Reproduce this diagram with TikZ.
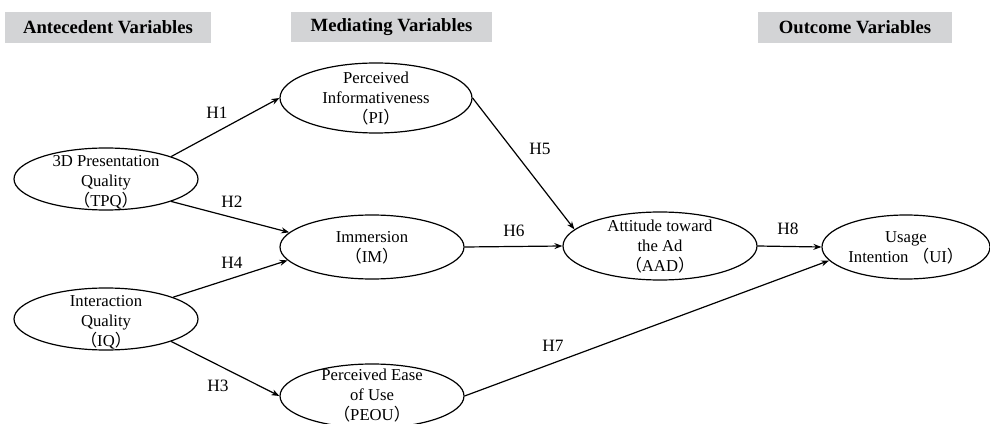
\documentclass[tikz,border=0pt]{standalone}
\usepackage{fontspec}
\setmainfont{Liberation Serif}
\newfontfamily\cjk{Noto Sans CJK SC}
\usetikzlibrary{shapes.geometric,arrows.meta}
\definecolor{headgray}{RGB}{211,212,214}
\newcommand{\fwl}{{\cjk （}}
\newcommand{\fwr}{{\cjk ）}}
\tikzset{every picture/.style={line width=0.9pt}}

\begin{document}
\begin{tikzpicture}[x=0.75pt,y=0.75pt,yscale=-1,xscale=1,
  var/.style={draw, ellipse, inner sep=0pt},
  vartext/.style={align=center, inner sep=0pt, font=\fontsize{12.5}{15}\selectfont},
  head/.style={fill=headgray, inner sep=0pt, font=\fontsize{14}{16}\selectfont\bfseries},
  hyp/.style={inner sep=0pt, font=\fontsize{13}{15}\selectfont},
  link/.style={-{Stealth[length=6pt,width=4.5pt]}}]
\useasboundingbox (0,0) rectangle (990,424);

%Shape: Rectangle
\node[head, minimum width=154.5pt, minimum height=23.25pt] (ante) at (108,27.5) {Antecedent Variables};
%Shape: Rectangle
\node[head, minimum width=150.75pt, minimum height=22.5pt] (medi) at (391.5,27) {Mediating Variables};
%Shape: Rectangle
\node[head, minimum width=145.5pt, minimum height=23.25pt] (outc) at (855,27.5) {Outcome Variables};

%Shape: Ellipse
\node[var, minimum width=138pt, minimum height=46.5pt] (tpq) at (106,179) {};
%Shape: Ellipse
\node[var, minimum width=138pt, minimum height=46.5pt] (iq) at (106,319) {};
%Shape: Ellipse
\node[var, minimum width=144pt, minimum height=52.5pt] (pi) at (376,98) {};
%Shape: Ellipse
\node[var, minimum width=138pt, minimum height=48pt] (im) at (372,247) {};
%Shape: Ellipse
\node[var, minimum width=138pt, minimum height=48pt] (peou) at (372,396) {};
%Shape: Ellipse
\node[var, minimum width=145.5pt, minimum height=51pt] (aad) at (660,246) {};
%Shape: Ellipse
\node[var, minimum width=126pt, minimum height=48pt] (ui) at (906,247) {};

%Straight Lines
\draw[link] (tpq.19) -- (pi.180) ;
%Straight Lines
\draw[link] (tpq.-19) -- (im.170) ;
%Straight Lines
\draw[link] (iq.18) -- (im.189) ;
%Straight Lines
\draw[link] (iq.-19) -- (peou.180) ;
%Straight Lines
\draw[link] (pi.0) -- (aad.169) ;
%Straight Lines
\draw[link] (im.0) -- (aad.180) ;
%Straight Lines
\draw[link] (peou.0) -- (ui.190) ;
%Straight Lines
\draw[link] (aad.0) -- (ui.180) ;

% Text Node
\node[vartext] (tpqtxt) at (106,182) {3D Presentation\\Quality\\\fwl TPQ\fwr};
% Text Node
\node[vartext] (iqtxt) at (106,322) {Interaction\\Quality\\\fwl IQ\fwr};
% Text Node
\node[vartext] (pitxt) at (376,99) {Perceived\\Informativeness\\\fwl PI\fwr};
% Text Node
\node[vartext] (imtxt) at (372,248) {Immersion\\\fwl IM\fwr};
% Text Node
\node[vartext] (peoutxt) at (372,396) {Perceived Ease\\of Use\\\fwl PEOU\fwr};
% Text Node
\node[vartext] (aadtxt) at (660,247) {Attitude toward\\the Ad\\\fwl AAD\fwr};
% Text Node
\node[vartext] (uitxt) at (906,248) {Usage\\Intention \fwl UI\fwr};

% Text Node
\node[hyp] (h1) at (217,113) {H1};
% Text Node
\node[hyp] (h2) at (232,202) {H2};
% Text Node
\node[hyp] (h3) at (218,386) {H3};
% Text Node
\node[hyp] (h4) at (232,263) {H4};
% Text Node
\node[hyp] (h5) at (540,149) {H5};
% Text Node
\node[hyp] (h6) at (514,231) {H6};
% Text Node
\node[hyp] (h7) at (553,346) {H7};
% Text Node
\node[hyp] (h8) at (788,229) {H8};

\end{tikzpicture}
\end{document}
